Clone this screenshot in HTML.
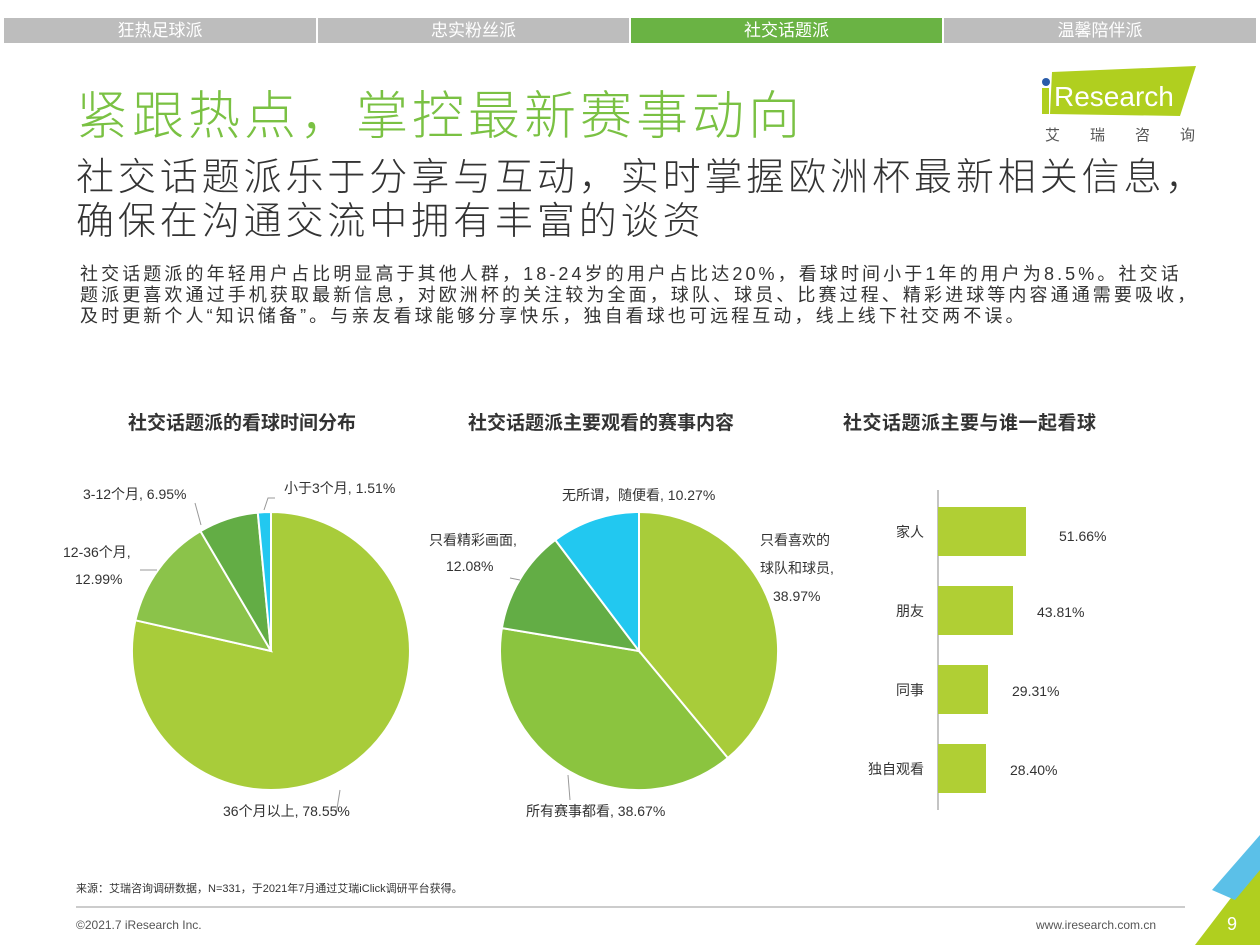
<!DOCTYPE html><html><head><meta charset="utf-8"><style>
body{margin:0;width:1260px;height:945px;background:#fff;position:relative;overflow:hidden;font-family:"Liberation Sans","Noto Sans CJK SC",sans-serif}
.a{position:absolute;white-space:nowrap}
.tab{position:absolute;top:18px;height:25px;background:#bdbdbd;color:#fff;font-size:17px;text-align:center;line-height:25px}
</style></head><body>
<div class="tab" style="left:4px;width:312px">狂热足球派</div>
<div class="tab" style="left:318px;width:311px">忠实粉丝派</div>
<div class="tab" style="left:631px;width:311px;background:#6ab344">社交话题派</div>
<div class="tab" style="left:944px;width:312px">温馨陪伴派</div>
<div class="a" style="left:76px;top:74px;font-size:52px;letter-spacing:4px;color:#7ac143;font-weight:300">紧跟热点，掌控最新赛事动向</div>
<svg class="a" style="left:1040px;top:64px" width="160" height="60"><polygon points="12,8 156,2 140,52 10,50" fill="#b0cf1f"/><circle cx="6" cy="18" r="4" fill="#2a5caa"/><rect x="2" y="24" width="7" height="26" fill="#b0cf1f"/><text x="14" y="42" font-size="28" fill="#fff" font-family="Liberation Sans">Research</text></svg>
<div class="a" style="left:1045px;top:124px;font-size:15px;color:#555;letter-spacing:30px">艾瑞咨询</div>
<div class="a" style="left:76px;top:156px;font-size:38px;letter-spacing:3.9px;color:#333;line-height:44px;font-weight:300">社交话题派乐于分享与互动，实时掌握欧洲杯最新相关信息，<br>确保在沟通交流中拥有丰富的谈资</div>
<div class="a" style="left:80px;top:264px;font-size:18px;letter-spacing:3.1px;color:#333;line-height:21px">社交话题派的年轻用户占比明显高于其他人群，18-24岁的用户占比达20%，看球时间小于1年的用户为8.5%。社交话<br>题派更喜欢通过手机获取最新信息，对欧洲杯的关注较为全面，球队、球员、比赛过程、精彩进球等内容通通需要吸收，<br>及时更新个人“知识储备”。与亲友看球能够分享快乐，独自看球也可远程互动，线上线下社交两不误。</div>
<div class="a" style="left:128px;top:408px;font-size:19px;font-weight:bold;color:#333">社交话题派的看球时间分布</div>
<div class="a" style="left:468px;top:408px;font-size:19px;font-weight:bold;color:#333">社交话题派主要观看的赛事内容</div>
<div class="a" style="left:843px;top:408px;font-size:19px;font-weight:bold;color:#333;letter-spacing:0.5px">社交话题派主要与谁一起看球</div>
<svg class="a" style="left:0;top:0" width="1260" height="945" font-family="Liberation Sans, Noto Sans CJK SC, sans-serif" font-size="14" fill="#333">
<g stroke="#fff" stroke-width="2">
<path d="M271,651 L271,512 A139,139 0 1 1 135.4,620.3Z" fill="#a8cc3a"/>
<path d="M271,651 L135.4,620.3 A139,139 0 0 1 200.5,531.2Z" fill="#8bc34a"/>
<path d="M271,651 L200.5,531.2 A139,139 0 0 1 257.8,512.6Z" fill="#63ad45"/>
<path d="M271,651 L257.8,512.6 A139,139 0 0 1 271,512Z" fill="#22c8f0"/>
<path d="M639,651 L639,512 A139,139 0 0 1 727.8,758Z" fill="#a8cc3a"/>
<path d="M639,651 L727.8,758 A139,139 0 0 1 501.9,628.1Z" fill="#8bc43f"/>
<path d="M639,651 L501.9,628.1 A139,139 0 0 1 555.3,540Z" fill="#63ad45"/>
<path d="M639,651 L555.3,540 A139,139 0 0 1 639,512Z" fill="#22c8f0"/>
</g>
<g stroke="#999" fill="none"><path d="M264,510 L268,498 L275,498"/><path d="M201,525 L195,503"/><path d="M157,570 L140,570"/><path d="M340,790 L336,815"/><path d="M520,580 L510,578"/><path d="M568,775 L570,800"/></g>
<text x="284" y="493">小于3个月, 1.51%</text>
<text x="83" y="499">3-12个月, 6.95%</text>
<text x="63" y="557">12-36个月,</text><text x="75" y="584">12.99%</text>
<text x="223" y="816">36个月以上, 78.55%</text>
<text x="562" y="500">无所谓，随便看, 10.27%</text>
<text x="429" y="545">只看精彩画面,</text><text x="446" y="571">12.08%</text>
<text x="760" y="545">只看喜欢的</text><text x="760" y="573">球队和球员,</text><text x="773" y="601">38.97%</text>
<text x="526" y="816">所有赛事都看, 38.67%</text>
<line x1="938" y1="490" x2="938" y2="810" stroke="#888"/>
<g fill="#b0cf34"><rect x="938" y="507" width="88" height="49"/><rect x="938" y="586" width="75" height="49"/><rect x="938" y="665" width="50" height="49"/><rect x="938" y="744" width="48" height="49"/></g>
<text x="924" y="537" text-anchor="end">家人</text><text x="924" y="616" text-anchor="end">朋友</text><text x="924" y="695" text-anchor="end">同事</text><text x="924" y="774" text-anchor="end">独自观看</text>
<text x="1059" y="541">51.66%</text><text x="1037" y="617">43.81%</text><text x="1012" y="696">29.31%</text><text x="1010" y="775">28.40%</text>
<line x1="76" y1="907" x2="1185" y2="907" stroke="#999"/>
<polygon points="1195,945 1260,860 1260,945" fill="#b0cf1f"/><polygon points="1212,890 1260,835 1260,870 1235,900" fill="#5bc0e8"/>
<text x="1227" y="930" font-size="18" fill="#fff">9</text>
</svg>
<div class="a" style="left:76px;top:880px;font-size:11px;color:#333">来源：艾瑞咨询调研数据，N=331，于2021年7月通过艾瑞iClick调研平台获得。</div>
<div class="a" style="left:76px;top:918px;font-size:12px;color:#555">©2021.7 iResearch Inc.</div>
<div class="a" style="left:1036px;top:918px;font-size:12px;color:#555">www.iresearch.com.cn</div>
</body></html>
